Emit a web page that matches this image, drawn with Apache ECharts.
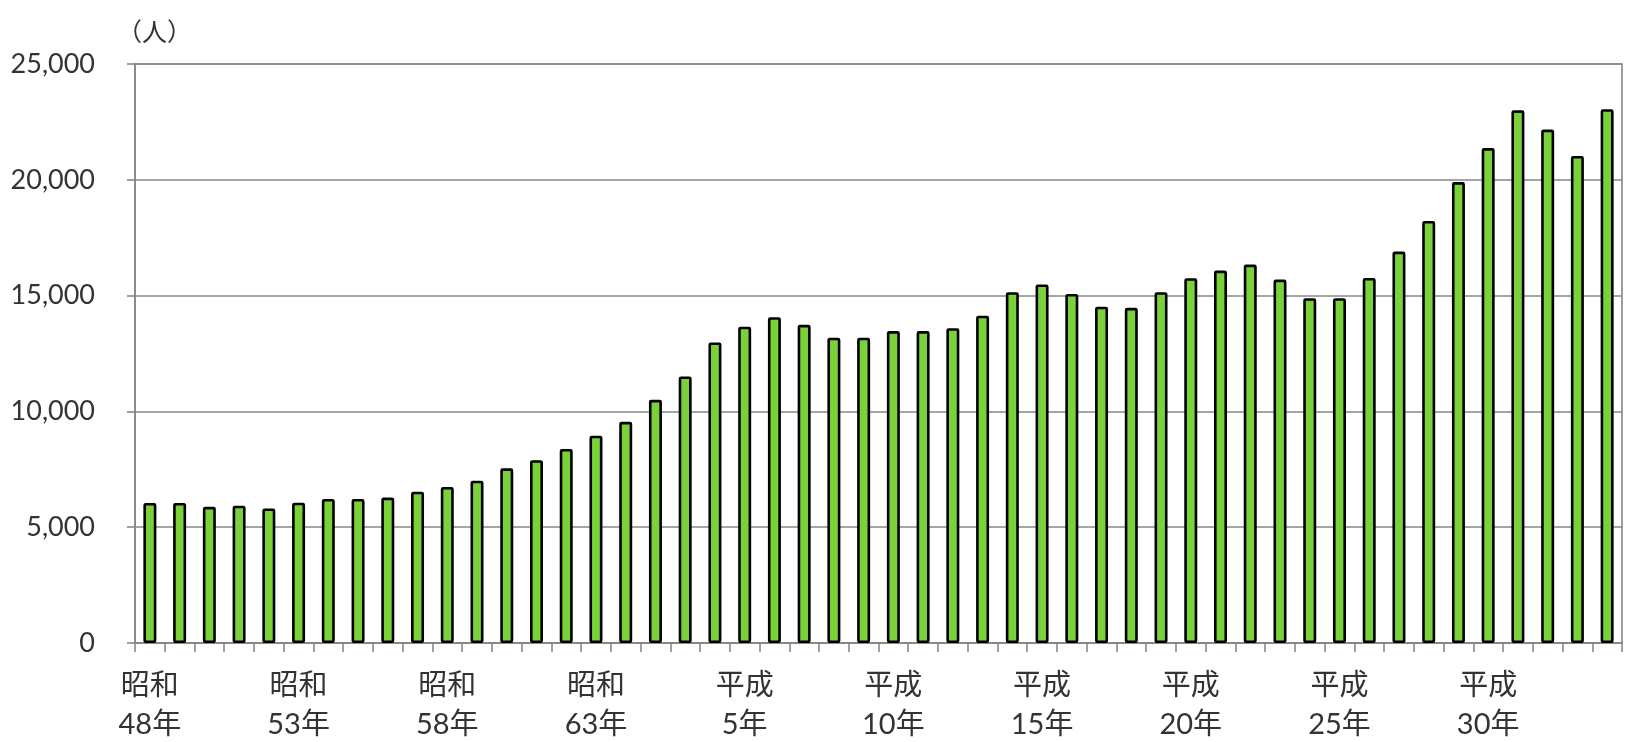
<!DOCTYPE html>
<html>
<head>
<meta charset="utf-8">
<title>chart</title>
<script src="https://cdn.jsdelivr.net/npm/echarts@6/dist/echarts.min.js"></script>
<style>
    html, body { margin: 0; padding: 0; background: #fff; }
    #main { width: 1628px; height: 742px; }
</style>
</head>
<body>
<div id="main"></div>
<script>
// 年次（表示は5年おき）
var categories = [
    '昭和\n48年', '昭和\n49年', '昭和\n50年', '昭和\n51年', '昭和\n52年',
    '昭和\n53年', '昭和\n54年', '昭和\n55年', '昭和\n56年', '昭和\n57年',
    '昭和\n58年', '昭和\n59年', '昭和\n60年', '昭和\n61年', '昭和\n62年',
    '昭和\n63年', '平成\n元年', '平成\n2年', '平成\n3年', '平成\n4年',
    '平成\n5年', '平成\n6年', '平成\n7年', '平成\n8年', '平成\n9年',
    '平成\n10年', '平成\n11年', '平成\n12年', '平成\n13年', '平成\n14年',
    '平成\n15年', '平成\n16年', '平成\n17年', '平成\n18年', '平成\n19年',
    '平成\n20年', '平成\n21年', '平成\n22年', '平成\n23年', '平成\n24年',
    '平成\n25年', '平成\n26年', '平成\n27年', '平成\n28年', '平成\n29年',
    '平成\n30年', '令和\n元年', '令和\n2年', '令和\n3年', '令和\n4年'
]

// 人数
var counts = [
    6050, 6050, 5880, 5930, 5810, 6060, 6220, 6220, 6280, 6530,
    6740, 7010, 7540, 7890, 8380, 8950, 9550, 10500, 11510, 12980,
    13660, 14070, 13740, 13180, 13180, 13470, 13470, 13590, 14130, 15150,
    15480, 15070, 14520, 14470, 15150, 15750, 16080, 16340, 15690, 14890,
    14890, 15760, 16900, 18220, 19900, 21370, 23000, 22170, 21030, 23050
]

var yTicks = [0, 5000, 10000, 15000, 20000, 25000]
var unitLabel = '（人）'

;(function () {
    var lineColor = '#878787'
    var font = 'Lato, "Noto Sans CJK JP", sans-serif'

    var chart = echarts.init(document.getElementById('main'))
    var option = {
        animation: false,
        backgroundColor: '#fff',
        title: {
            text: unitLabel,
            left: 112,
            top: 14,
            textStyle: {
                fontFamily: '"Noto Sans CJK JP", sans-serif',
                fontSize: 25,
                fontWeight: 'normal',
                color: '#333'
            }
        },
        grid: {
            left: 135,
            right: 6,
            top: 64,
            bottom: 99,
            containLabel: false,
            outerBoundsMode: 'none',
            show: true,
            borderColor: lineColor,
            borderWidth: 1.6
        },
        xAxis: {
            type: 'category',
            data: categories,
            boundaryGap: true,
            axisLine: { show: true, lineStyle: { color: lineColor, width: 1.6 } },
            axisTick: { show: true, length: 9, interval: 0, lineStyle: { color: lineColor, width: 1.6 } },
            axisLabel: {
                interval: 4,
                margin: 23,
                fontFamily: font,
                fontSize: 29,
                lineHeight: 39,
                color: '#333'
            },
            splitLine: { show: false }
        },
        yAxis: {
            type: 'value',
            min: yTicks[0],
            max: yTicks[yTicks.length - 1],
            interval: yTicks[1] - yTicks[0],
            axisLine: { show: true, lineStyle: { color: lineColor, width: 1.6 } },
            axisTick: { show: true, length: 8, lineStyle: { color: lineColor, width: 1.6 } },
            axisLabel: {
                margin: 40,
                fontFamily: font,
                fontSize: 27,
                color: '#333',
                formatter: function (v) {
                    return v.toLocaleString('en-US')
                }
            },
            splitLine: { show: true, lineStyle: { color: lineColor, width: 1.6 } }
        },
        series: [
            {
                type: 'bar',
                data: counts,
                barWidth: 13,
                itemStyle: {
                    color: '#7ad13a',
                    borderColor: '#000',
                    borderWidth: 2.6,
                    borderRadius: 1
                }
            }
        ]
    }
    chart.setOption(option)
}())
</script>
</body>
</html>
